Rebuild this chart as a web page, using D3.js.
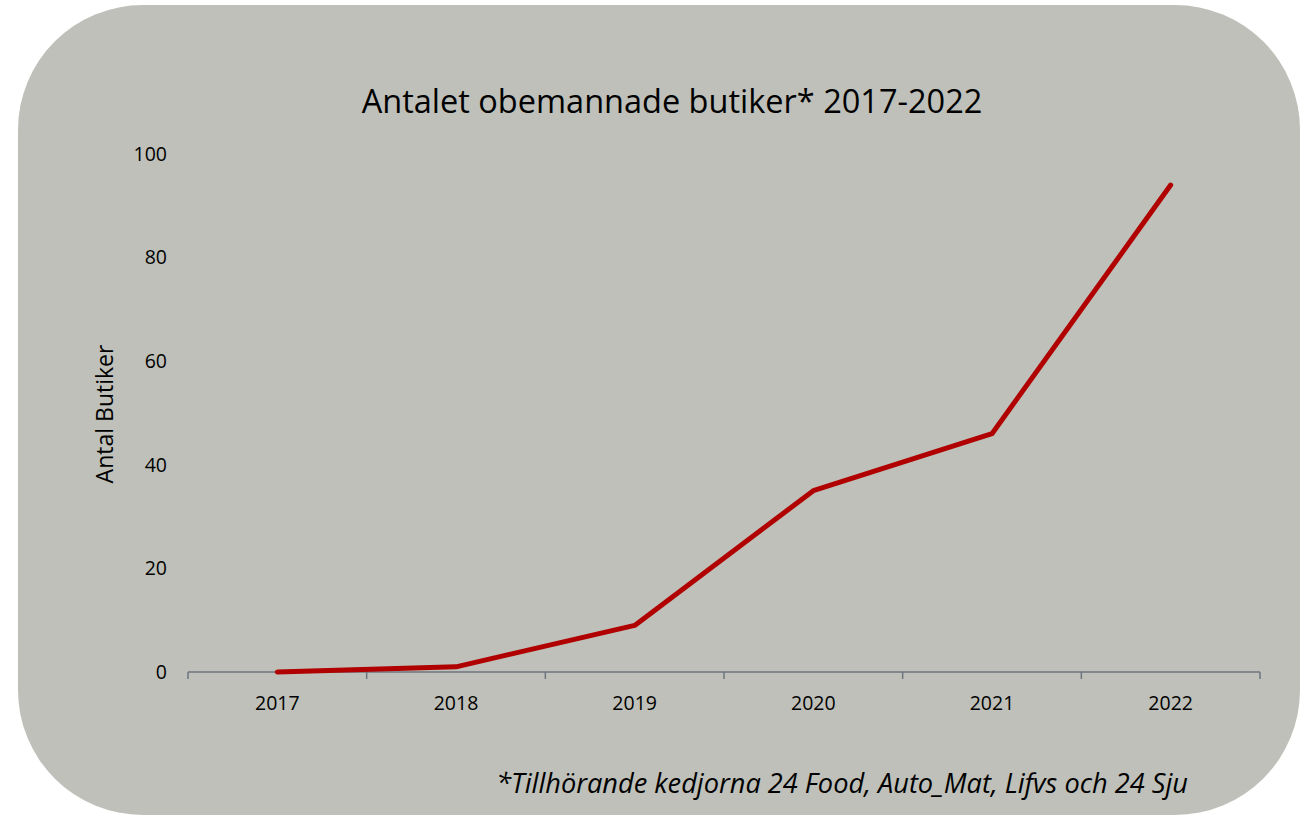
<!DOCTYPE html>
<html>
<head>
<meta charset="utf-8">
<script src="https://cdn.jsdelivr.net/npm/d3@7"></script>
<style>
  html, body { margin: 0; padding: 0; background: #ffffff; }
  svg { display: block; }
  text { font-family: "Open Sans", "Liberation Sans", sans-serif; fill: #000; }
</style>
</head>
<body>
<svg id="chart" width="1309" height="817"></svg>
<script>
// Data
const years = ["2017", "2018", "2019", "2020", "2021", "2022"];
const stores = [0, 1, 9, 35, 46, 94];
const yTicks = [0, 20, 40, 60, 80, 100];

const title = "Antalet obemannade butiker* 2017-2022";
const yTitle = "Antal Butiker";
const footnote = "*Tillhörande kedjorna 24 Food, Auto_Mat, Lifvs och 24 Sju";

const svg = d3.select("#chart");

// Rounded card behind the chart
svg.append("rect")
  .attr("x", 18).attr("y", 5)
  .attr("width", 1282).attr("height", 810)
  .attr("rx", 125).attr("ry", 125)
  .attr("fill", "#bec0b9");

const plot = { left: 188, right: 1260, top: 154, bottom: 672 };

const x = d3.scaleBand().domain(years).range([plot.left, plot.right]).paddingInner(0).paddingOuter(0);
const y = d3.scaleLinear().domain([0, 100]).range([plot.bottom, plot.top]);

// Title
svg.append("text")
  .attr("x", 672).attr("y", 113)
  .attr("text-anchor", "middle")
  .style("font-size", "32.5px")
  .text(title);

// Y tick labels (no axis line)
svg.append("g").selectAll("text")
  .data(yTicks).join("text")
  .attr("x", 167).attr("y", d => y(d))
  .attr("dy", "0.35em")
  .attr("text-anchor", "end")
  .style("font-size", "19.5px")
  .text(d => d);

// Y axis title
svg.append("text")
  .attr("transform", `translate(113, 414) rotate(-90)`)
  .attr("text-anchor", "middle")
  .style("font-size", "23px")
  .text(yTitle);

// X axis: baseline with ticks at band boundaries
const xAxis = svg.append("g");
xAxis.append("line")
  .attr("x1", plot.left).attr("x2", plot.right)
  .attr("y1", y(0)).attr("y2", y(0))
  .attr("stroke", "#6e7480").attr("stroke-width", 1.5);

const bounds = years.map(d => x(d)).concat([x(years[years.length - 1]) + x.bandwidth()]);
xAxis.selectAll("line.tick")
  .data(bounds).join("line")
  .attr("class", "tick")
  .attr("x1", d => d).attr("x2", d => d)
  .attr("y1", y(0)).attr("y2", y(0) + 7)
  .attr("stroke", "#6e7480").attr("stroke-width", 1.5);

xAxis.selectAll("text")
  .data(years).join("text")
  .attr("x", d => x(d) + x.bandwidth() / 2)
  .attr("y", 703)
  .attr("dy", "0.35em")
  .attr("text-anchor", "middle")
  .style("font-size", "19.5px")
  .text(d => d);

// Series line
const line = d3.line()
  .x((d, i) => x(years[i]) + x.bandwidth() / 2)
  .y(d => y(d));

svg.append("path")
  .datum(stores)
  .attr("d", line)
  .attr("fill", "none")
  .attr("stroke", "#b00000")
  .attr("stroke-width", 5)
  .attr("stroke-linejoin", "round")
  .attr("stroke-linecap", "round");

// Footnote
svg.append("text")
  .attr("x", 1188).attr("y", 793)
  .attr("text-anchor", "end")
  .style("font-size", "27.2px")
  .style("font-style", "italic")
  .text(footnote);
</script>
</body>
</html>
